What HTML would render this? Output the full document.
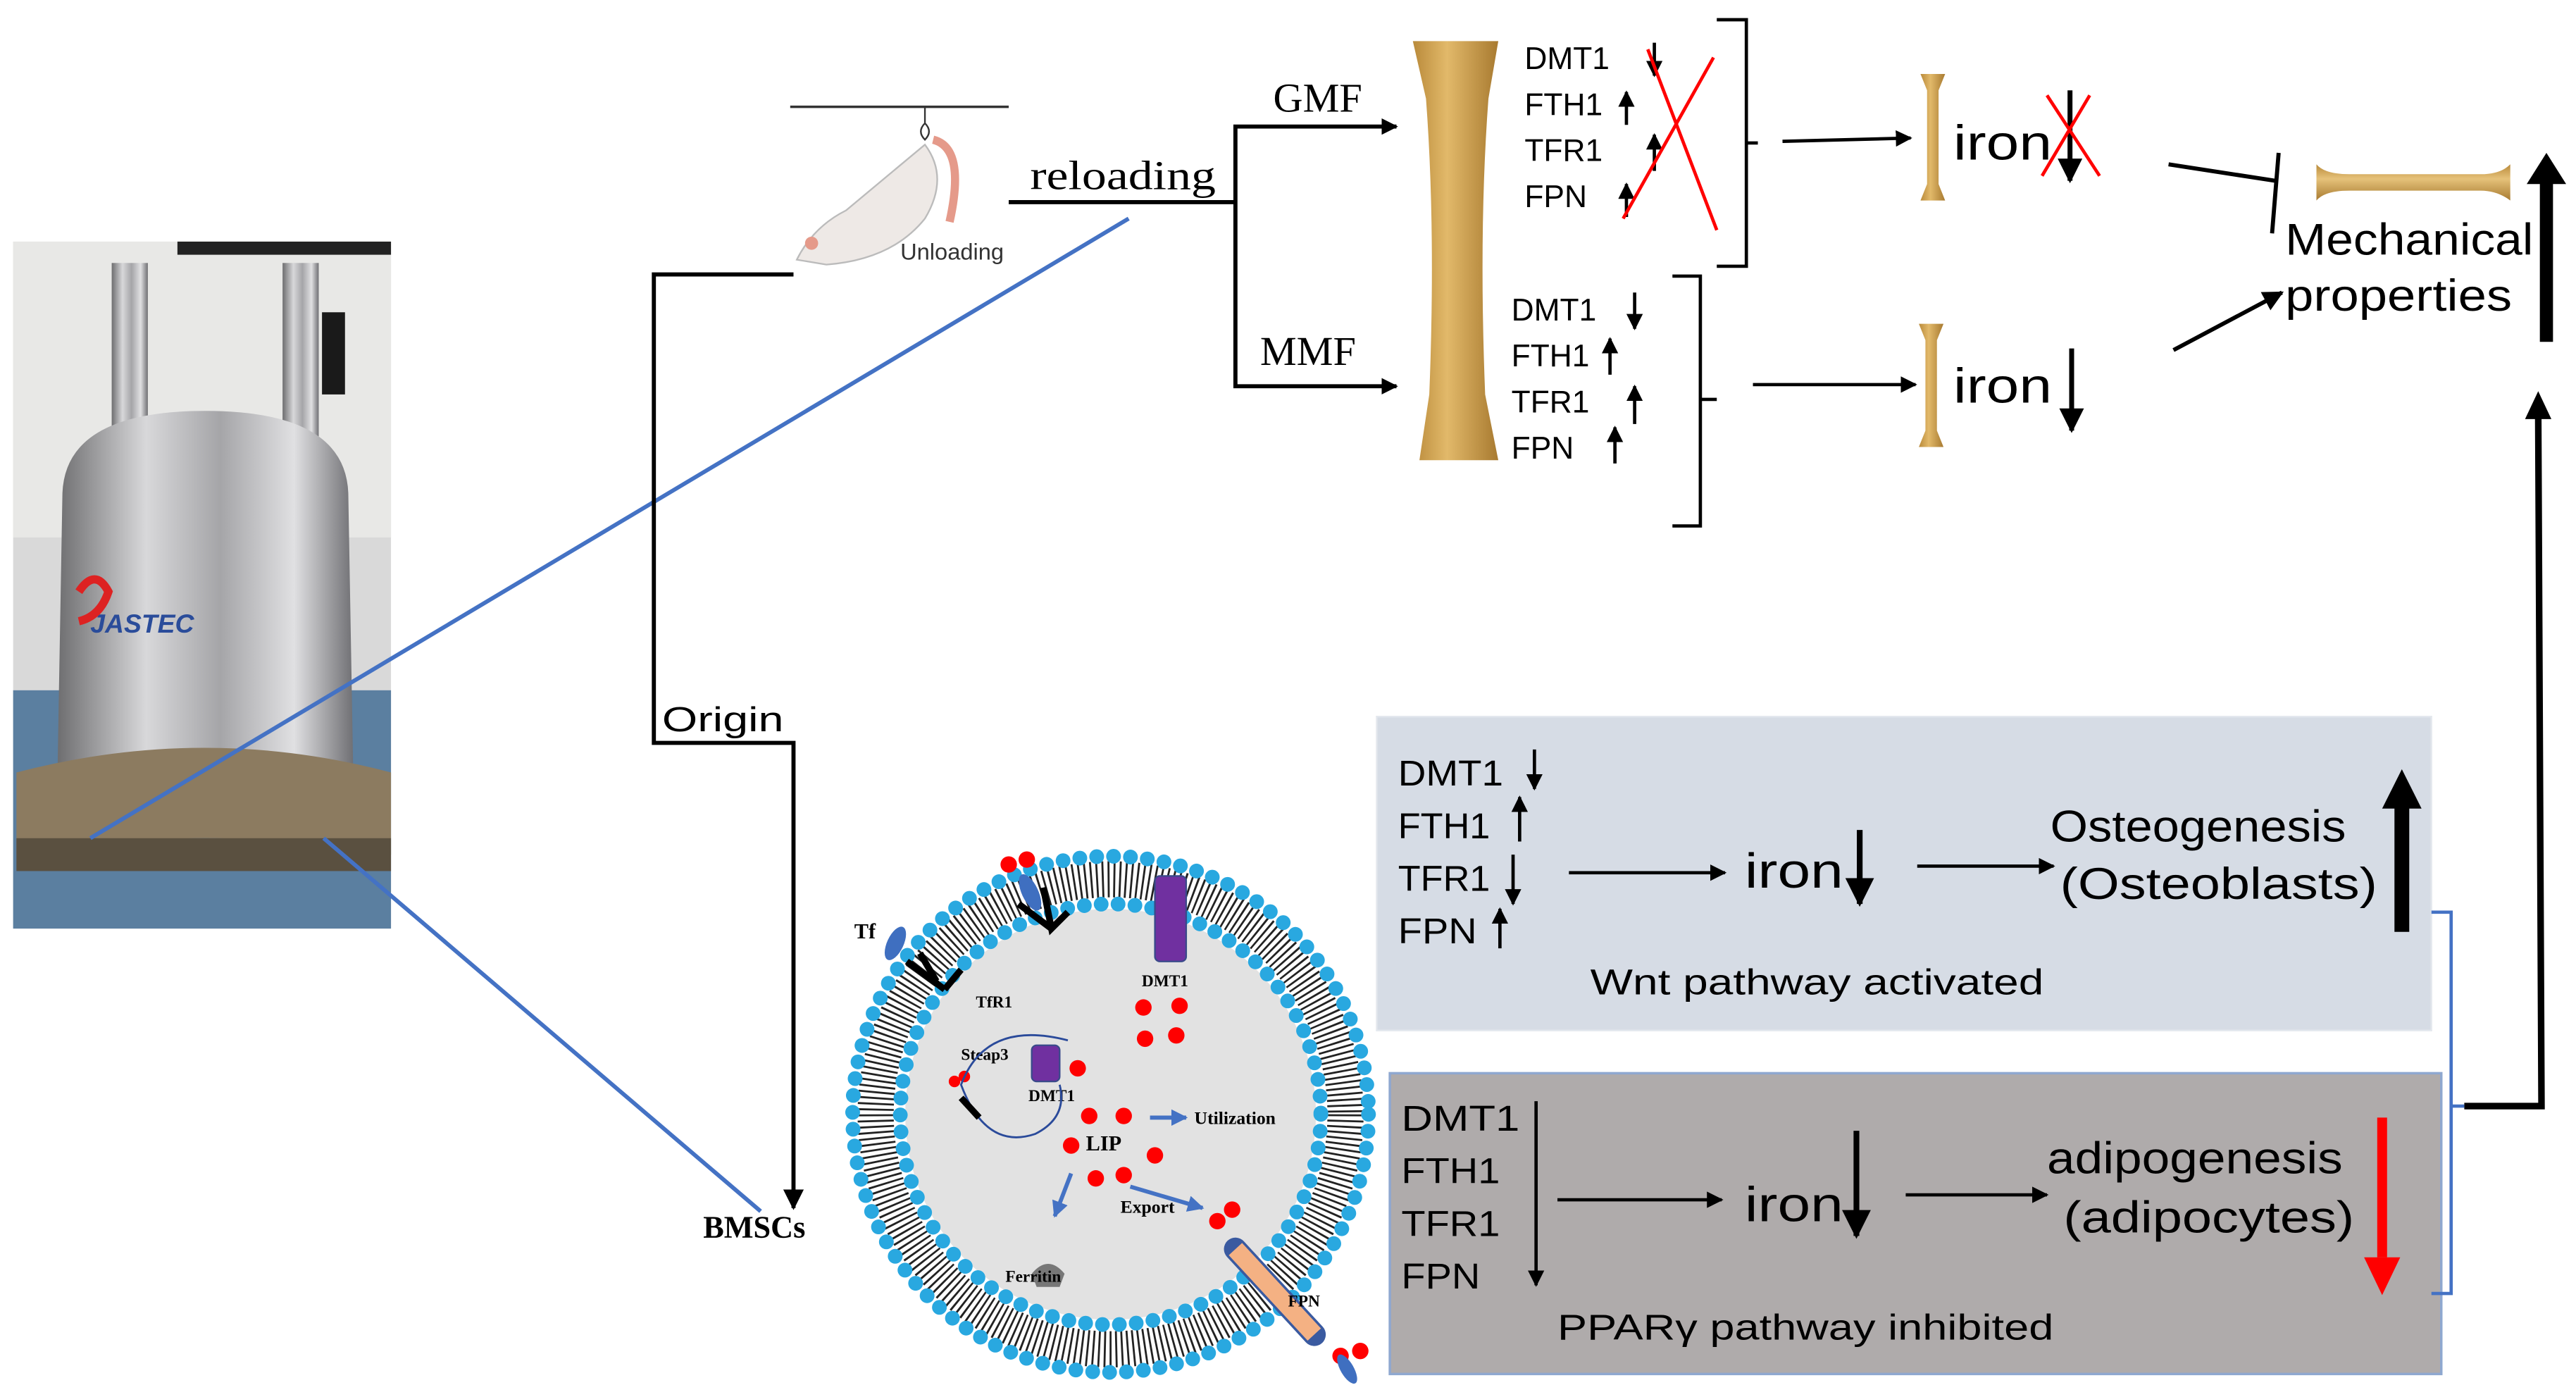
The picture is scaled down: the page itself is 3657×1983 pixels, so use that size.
<!DOCTYPE html>
<html><head><meta charset="utf-8"><style>
html,body{margin:0;padding:0;background:#fff;}
svg{display:block;}
.s{font-family:"Liberation Sans","DejaVu Sans",sans-serif;}
.r{font-family:"Liberation Serif",serif;}
</style></head><body>
<svg width="3657" height="1983" viewBox="0 0 1568 850" preserveAspectRatio="none" xmlns="http://www.w3.org/2000/svg">
<defs>
<marker id="ah" viewBox="0 0 10 10" refX="9" refY="5" markerWidth="5" markerHeight="5" orient="auto"><path d="M0,0 L10,5 L0,10 z" fill="#000"/></marker>
<marker id="bh" viewBox="0 0 10 10" refX="9" refY="5" markerWidth="4" markerHeight="4" orient="auto"><path d="M0,0 L10,5 L0,10 z" fill="#4472c4"/></marker>
<linearGradient id="bone" x1="0" x2="1"><stop offset="0" stop-color="#b98a3a"/><stop offset=".4" stop-color="#e2b96a"/><stop offset="1" stop-color="#a87a30"/></linearGradient>
<linearGradient id="boneh" x1="0" y1="0" x2="0" y2="1"><stop offset="0" stop-color="#b98a3a"/><stop offset=".4" stop-color="#e6c27a"/><stop offset="1" stop-color="#a87a30"/></linearGradient>
<linearGradient id="steel" x1="0" x2="1"><stop offset="0" stop-color="#6e6e70"/><stop offset=".3" stop-color="#d8d8da"/><stop offset=".55" stop-color="#a5a5a8"/><stop offset=".8" stop-color="#e0e0e2"/><stop offset="1" stop-color="#707074"/></linearGradient>
</defs>

<!-- photo -->
<rect x="8" y="147" width="230" height="418" fill="#d9d9d9"/>
<rect x="8" y="147" width="230" height="180" fill="#e8e8e6"/>
<rect x="108" y="147" width="130" height="8" fill="#222"/>
<rect x="8" y="420" width="230" height="145" fill="#5b7fa0"/>
<rect x="68" y="160" width="22" height="110" fill="url(#steel)"/>
<rect x="172" y="160" width="22" height="110" fill="url(#steel)"/>
<rect x="196" y="190" width="14" height="50" fill="#1a1a1a"/>
<path d="M38,300 Q40,250 125,250 Q210,250 212,300 L215,470 Q125,490 35,470 Z" fill="url(#steel)"/>
<text x="55" y="385" class="s" font-size="16" font-style="italic" font-weight="bold" fill="#2a4c9a">JASTEC</text>
<path d="M48,360 q10,-15 18,0 q-5,15 -18,18" stroke="#d22" stroke-width="5" fill="none"/>
<path d="M10,470 Q125,440 238,470 L238,520 Q125,500 10,520 Z" fill="#8c7b60"/>
<rect x="10" y="510" width="228" height="20" fill="#5a5040"/>

<!-- blue connector lines -->
<line x1="687" y1="133" x2="55" y2="510" stroke="#4472c4" stroke-width="2.5"/>
<line x1="197" y1="510" x2="463" y2="737" stroke="#4472c4" stroke-width="2.5"/>

<!-- mouse -->
<line x1="481" y1="65" x2="614" y2="65" stroke="#333" stroke-width="1.5"/>
<path d="M563,65 v10 q-5,5 0,10 q5,-5 0,-10" stroke="#333" fill="none"/>
<path d="M568,85 q20,5 10,50" stroke="#e59a8a" stroke-width="5" fill="none"/>
<path d="M485,158 q10,-20 30,-30 q30,-25 48,-40 q15,20 0,45 q-20,25 -60,28 z" fill="#eee9e6" stroke="#bbb"/>
<circle cx="494" cy="148" r="4" fill="#e59a8a"/>
<text x="548" y="158" class="s" font-size="14" fill="#333">Unloading</text>

<!-- left tree -->
<polyline points="483,167 398,167 398,452 483,452 483,735" fill="none" stroke="#000" stroke-width="2.5" marker-end="url(#ah)"/>
<text x="403" y="445" class="s" font-size="21" fill="#000" textLength="74" lengthAdjust="spacingAndGlyphs">Origin</text>
<text x="428" y="753" class="r" font-size="19" font-weight="bold">BMSCs</text>

<line x1="614" y1="123" x2="752" y2="123" stroke="#000" stroke-width="2.5"/>
<text x="627" y="115" class="r" font-size="25" textLength="113" lengthAdjust="spacingAndGlyphs">reloading</text>
<polyline points="850,77 752,77 752,235 850,235" fill="none" stroke="#000" stroke-width="2.5"/>
<line x1="752" y1="77" x2="850" y2="77" stroke="#000" stroke-width="2" marker-end="url(#ah)"/>
<line x1="752" y1="235" x2="850" y2="235" stroke="#000" stroke-width="2" marker-end="url(#ah)"/>
<text x="775" y="68" class="r" font-size="25">GMF</text>
<text x="767" y="222" class="r" font-size="25">MMF</text>

<!-- big bone -->
<path d="M860,25 L912,25 L906,60 Q900,140 904,240 L912,280 L864,280 L870,240 Q874,140 868,60 Z" fill="url(#bone)"/>

<!-- gene lists -->
<g class="s" font-size="19">
<text x="928" y="42">DMT1</text><text x="928" y="70">FTH1</text><text x="928" y="98">TFR1</text><text x="928" y="126">FPN</text>
<text x="920" y="195">DMT1</text><text x="920" y="223">FTH1</text><text x="920" y="251">TFR1</text><text x="920" y="279">FPN</text>
</g>
<g stroke="#000" stroke-width="2" marker-end="url(#ah)">
<line x1="1007" y1="26" x2="1007" y2="46"/>
<line x1="990" y1="76" x2="990" y2="56"/>
<line x1="1007" y1="104" x2="1007" y2="82"/>
<line x1="990" y1="132" x2="990" y2="112"/>
<line x1="995" y1="178" x2="995" y2="200"/>
<line x1="980" y1="228" x2="980" y2="206"/>
<line x1="995" y1="258" x2="995" y2="235"/>
<line x1="983" y1="282" x2="983" y2="260"/>
</g>
<line x1="1003" y1="30" x2="1045" y2="140" stroke="red" stroke-width="2"/>
<line x1="1043" y1="35" x2="988" y2="133" stroke="red" stroke-width="2"/>

<!-- brackets -->
<path d="M1045,12 H1063 V162 H1045 M1063,87 H1070" fill="none" stroke="#000" stroke-width="2"/>
<path d="M1018,168 H1035 V320 H1018 M1035,243 H1045" fill="none" stroke="#000" stroke-width="2"/>
<line x1="1085" y1="86" x2="1163" y2="84" stroke="#000" stroke-width="2" marker-end="url(#ah)"/>
<line x1="1067" y1="234" x2="1166" y2="234" stroke="#000" stroke-width="2" marker-end="url(#ah)"/>

<!-- small bones -->
<path d="M1169,45 H1184 L1180,55 V112 L1184,122 H1169 L1173,112 V55 Z" fill="url(#bone)"/>
<path d="M1168,197 H1183 L1179,207 V262 L1183,272 H1168 L1172,262 V207 Z" fill="url(#bone)"/>
<text x="1189" y="97" class="s" font-size="30" textLength="60" lengthAdjust="spacingAndGlyphs">iron</text>
<text x="1189" y="245" class="s" font-size="30" textLength="60" lengthAdjust="spacingAndGlyphs">iron</text>
<line x1="1260" y1="55" x2="1260" y2="110" stroke="#000" stroke-width="3" marker-end="url(#ah)"/>
<line x1="1261" y1="212" x2="1261" y2="262" stroke="#000" stroke-width="3" marker-end="url(#ah)"/>
<line x1="1246" y1="58" x2="1278" y2="107" stroke="red" stroke-width="2"/>
<line x1="1272" y1="58" x2="1243" y2="107" stroke="red" stroke-width="2"/>

<!-- mechanical -->
<line x1="1320" y1="100" x2="1385" y2="110" stroke="#000" stroke-width="2.5"/>
<line x1="1387" y1="93" x2="1383" y2="142" stroke="#000" stroke-width="2.5"/>
<path d="M1410,100 Q1415,106 1430,106 H1510 Q1522,106 1528,100 V122 Q1520,116 1510,116 H1430 Q1415,116 1410,122 Z" fill="url(#boneh)"/>
<text x="1391" y="155" class="s" font-size="27" textLength="151" lengthAdjust="spacingAndGlyphs">Mechanical</text>
<text x="1391" y="189" class="s" font-size="27" textLength="138" lengthAdjust="spacingAndGlyphs">properties</text>
<line x1="1323" y1="213" x2="1389" y2="178" stroke="#000" stroke-width="2.5" marker-end="url(#ah)"/>
<line x1="1550" y1="208" x2="1550" y2="110" stroke="#000" stroke-width="8"/>
<path d="M1538,112 L1550,93 L1562,112 Z" fill="#000"/>
<polyline points="1500,673 1547,673 1545,250" fill="none" stroke="#000" stroke-width="4"/>
<path d="M1537,255 L1545,238 L1553,255 Z" fill="#000"/>

<!-- blue box -->
<rect x="838" y="436" width="642" height="191" fill="#d6dce5" stroke="#e4e8ee"/>
<g class="s" font-size="22" lengthAdjust="spacingAndGlyphs">
<text x="851" y="478" textLength="64" lengthAdjust="spacingAndGlyphs">DMT1</text><text x="851" y="510" textLength="56" lengthAdjust="spacingAndGlyphs">FTH1</text><text x="851" y="542" textLength="56" lengthAdjust="spacingAndGlyphs">TFR1</text><text x="851" y="574" textLength="48" lengthAdjust="spacingAndGlyphs">FPN</text>
</g>
<g stroke="#000" stroke-width="2" marker-end="url(#ah)">
<line x1="934" y1="456" x2="934" y2="480"/>
<line x1="925" y1="512" x2="925" y2="485"/>
<line x1="921" y1="520" x2="921" y2="550"/>
<line x1="913" y1="577" x2="913" y2="553"/>
<line x1="955" y1="531" x2="1050" y2="531"/>
<line x1="1167" y1="527" x2="1250" y2="527"/>
</g>
<line x1="1132" y1="505" x2="1132" y2="550" stroke="#000" stroke-width="3.5" marker-end="url(#ah)"/>
<text x="1062" y="540" class="s" font-size="30" textLength="60" lengthAdjust="spacingAndGlyphs">iron</text>
<text x="1248" y="512" class="s" font-size="27" textLength="180" lengthAdjust="spacingAndGlyphs">Osteogenesis</text>
<text x="1254" y="547" class="s" font-size="27" textLength="193" lengthAdjust="spacingAndGlyphs">(Osteoblasts)</text>
<line x1="1462" y1="567" x2="1462" y2="490" stroke="#000" stroke-width="9"/>
<path d="M1450,492 L1462,468 L1474,492 Z" fill="#000"/>
<text x="968" y="605" class="s" font-size="22" textLength="276" lengthAdjust="spacingAndGlyphs">Wnt pathway activated</text>

<!-- gray box -->
<rect x="846" y="653" width="640" height="183" fill="#afabab" stroke="#8fa8d0" stroke-width="1.5"/>
<g class="s" font-size="22">
<text x="853" y="688" textLength="72" lengthAdjust="spacingAndGlyphs">DMT1</text><text x="853" y="720" textLength="60" lengthAdjust="spacingAndGlyphs">FTH1</text><text x="853" y="752" textLength="60" lengthAdjust="spacingAndGlyphs">TFR1</text><text x="853" y="784" textLength="48" lengthAdjust="spacingAndGlyphs">FPN</text>
</g>
<g stroke="#000" stroke-width="2" marker-end="url(#ah)">
<line x1="948" y1="730" x2="1048" y2="730"/>
<line x1="1160" y1="727" x2="1246" y2="727"/>
<line x1="935" y1="670" x2="935" y2="782"/>
</g>
<text x="1062" y="743" class="s" font-size="30" textLength="60" lengthAdjust="spacingAndGlyphs">iron</text>
<line x1="1130" y1="688" x2="1130" y2="752" stroke="#000" stroke-width="3.5" marker-end="url(#ah)"/>
<text x="1246" y="714" class="s" font-size="27" textLength="180" lengthAdjust="spacingAndGlyphs">adipogenesis</text>
<text x="1256" y="750" class="s" font-size="27" textLength="177" lengthAdjust="spacingAndGlyphs">(adipocytes)</text>
<line x1="1450" y1="680" x2="1450" y2="765" stroke="red" stroke-width="6"/>
<path d="M1439,765 L1450,788 L1461,765 Z" fill="red"/>
<text x="948" y="815" class="s" font-size="22" textLength="302" lengthAdjust="spacingAndGlyphs">PPARγ pathway inhibited</text>
<path d="M1480,555 H1492 V787 H1480 M1492,673 H1500" fill="none" stroke="#4472c4" stroke-width="2"/>

<!-- cell -->
<circle cx="676" cy="678" r="160" fill="#fff"/>
<circle cx="676" cy="678" r="143" fill="none" stroke="#222" stroke-width="22" stroke-dasharray="1.2 2.3"/>
<circle cx="676" cy="678" r="125" fill="#e2e2e2"/>
<circle cx="676" cy="678" r="157" fill="none" stroke="#29a8e0" stroke-width="9" stroke-linecap="round" stroke-dasharray="0 10.3"/>
<circle cx="676" cy="678" r="128" fill="none" stroke="#29a8e0" stroke-width="9" stroke-linecap="round" stroke-dasharray="0 10.3"/>
<rect x="703" y="533" width="19" height="52" rx="3" fill="#7030a0" stroke="#3a4a8a"/>
<text x="695" y="600" class="r" font-size="10" font-weight="bold">DMT1</text>
<g fill="#f00">
<circle cx="696" cy="613" r="5"/><circle cx="718" cy="612" r="5"/><circle cx="697" cy="632" r="5"/><circle cx="716" cy="630" r="5"/>
<circle cx="656" cy="650" r="5"/><circle cx="663" cy="679" r="5"/><circle cx="684" cy="679" r="5"/><circle cx="652" cy="697" r="5"/>
<circle cx="667" cy="717" r="5"/><circle cx="684" cy="715" r="5"/><circle cx="703" cy="703" r="5"/>
<circle cx="741" cy="743" r="5"/><circle cx="750" cy="736" r="5"/>
<circle cx="614" cy="526" r="5"/><circle cx="625" cy="523" r="5"/>
<circle cx="816" cy="825" r="5"/><circle cx="828" cy="822" r="5"/>
<circle cx="581" cy="658" r="3.5"/><circle cx="587" cy="655" r="3.5"/>
</g>
<text x="661" y="700" class="r" font-size="13" font-weight="bold">LIP</text>
<rect x="628" y="636" width="17" height="22" rx="3" fill="#7030a0" stroke="#3a4a8a"/>
<text x="626" y="670" class="r" font-size="10" font-weight="bold">DMT1</text>
<text x="585" y="645" class="r" font-size="10" font-weight="bold">Steap3</text>
<path d="M650,633 Q600,620 585,660 Q600,700 630,690 Q650,680 645,660" fill="none" stroke="#2a4a9a" stroke-width="1.2"/>
<text x="594" y="613" class="r" font-size="10" font-weight="bold">TfR1</text>
<text x="520" y="571" class="r" font-size="13" font-weight="bold">Tf</text>
<ellipse cx="545" cy="574" rx="5" ry="11" transform="rotate(25 545 574)" fill="#3f6fc0"/>
<ellipse cx="627" cy="543" rx="5" ry="12" transform="rotate(-25 627 543)" fill="#3f6fc0"/>
<ellipse cx="820" cy="833" rx="4" ry="10" transform="rotate(-30 820 833)" fill="#3f6fc0"/>
<g stroke="#000" stroke-width="4" fill="none">
<path d="M552,585 L575,602 M560,580 L570,597 M575,602 L585,590"/>
<path d="M620,550 L640,565 M635,540 L640,565 L650,555"/>
<path d="M585,668 L596,680"/>
</g>
<line x1="752" y1="760" x2="800" y2="812" stroke="#3a5aa0" stroke-width="14" stroke-linecap="round"/>
<line x1="752" y1="760" x2="800" y2="812" stroke="#f4b183" stroke-width="11"/>
<text x="784" y="795" class="r" font-size="10" font-weight="bold">FPN</text>
<path d="M628,775 q10,-12 20,0 l-3,8 h-14 z" fill="#777"/>
<text x="612" y="780" class="r" font-size="10" font-weight="bold">Ferritin</text>
<line x1="700" y1="680" x2="722" y2="680" stroke="#4472c4" stroke-width="2.5" marker-end="url(#bh)"/>
<text x="727" y="684" class="r" font-size="11" font-weight="bold">Utilization</text>
<line x1="652" y1="714" x2="642" y2="740" stroke="#4472c4" stroke-width="2.5" marker-end="url(#bh)"/>
<line x1="688" y1="722" x2="732" y2="735" stroke="#4472c4" stroke-width="2.5" marker-end="url(#bh)"/>
<text x="682" y="738" class="r" font-size="11" font-weight="bold">Export</text>
</svg>
</body></html>
